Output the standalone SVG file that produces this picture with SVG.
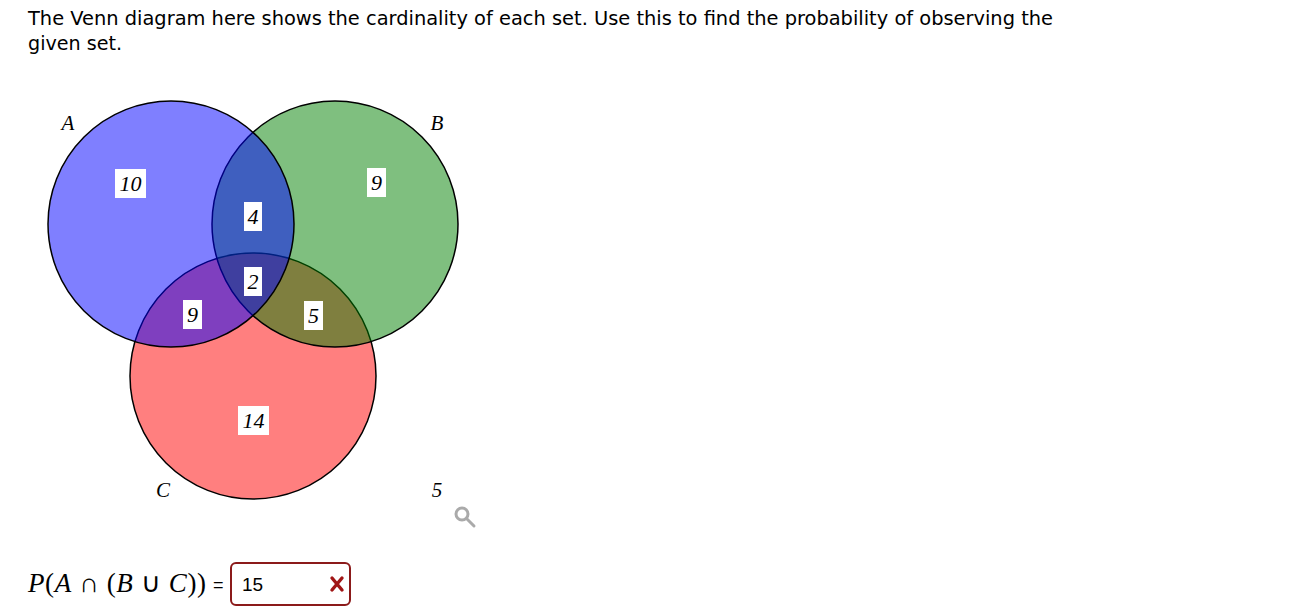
<svg xmlns="http://www.w3.org/2000/svg" width="1313" height="615" viewBox="0 0 1313 615">
<style>
.q{font-family:"DejaVu Sans",Verdana,sans-serif;font-size:20px;fill:#000}
.set{fill-opacity:0.5;stroke:#000;stroke-width:1.5}
.lb{fill:#fff}
.n{font-family:"Liberation Serif","Times New Roman",serif;font-style:italic;font-size:22px;fill:#000;text-anchor:middle}
.sl{font-family:"Liberation Serif","Times New Roman",serif;font-style:italic;font-size:21px;fill:#000;text-anchor:middle}
.m{font-family:"Liberation Serif","Times New Roman",serif;font-size:27px;fill:#000}
</style>
<rect width="1313" height="615" fill="#fff"/>
<text class="q" x="28" y="25" textLength="1025" lengthAdjust="spacingAndGlyphs">The Venn diagram here shows the cardinality of each set. Use this to find the probability of observing the</text>
<text class="q" x="28" y="50" textLength="94" lengthAdjust="spacingAndGlyphs">given set.</text>
<g id="venn">
<g id="setC"><circle class="set" cx="253" cy="376" r="123" fill="#ff0000"/></g>
<g id="setB"><circle class="set" cx="335" cy="224" r="123" fill="#008000"/></g>
<g id="setA"><circle class="set" cx="171" cy="224" r="123" fill="#0000ff"/></g>
</g>
<g id="connectors"></g>
<g id="labels">
<g id="lblA"><text class="sl" x="68" y="130">A</text></g>
<g id="lblB"><text class="sl" x="437" y="130">B</text></g>
<g id="lblC"><text class="sl" x="163" y="497">C</text></g>
<g id="lblU"><text class="sl" x="437" y="497">5</text></g>
<g id="r10"><rect class="lb" x="115" y="169" width="31" height="29"/><text class="n" x="130.5" y="191">10</text></g>
<g id="r4"><rect class="lb" x="244" y="202" width="18" height="29"/><text class="n" x="253" y="224">4</text></g>
<g id="r2"><rect class="lb" x="244" y="267" width="18" height="29"/><text class="n" x="253" y="289">2</text></g>
<g id="r9a"><rect class="lb" x="183" y="300" width="19" height="29"/><text class="n" x="192.5" y="322">9</text></g>
<g id="r9b"><rect class="lb" x="367" y="168" width="19" height="29"/><text class="n" x="376.5" y="190">9</text></g>
<g id="r5"><rect class="lb" x="304" y="301" width="19" height="29"/><text class="n" x="313.5" y="323">5</text></g>
<g id="r14"><rect class="lb" x="238" y="406" width="31" height="29"/><text class="n" x="253.5" y="428">14</text></g>
</g>
<g id="zoomicon" fill="none" stroke="#aaa" stroke-width="3">
<circle cx="462" cy="514" r="6"/>
<line x1="466.5" y1="518.5" x2="474" y2="526" stroke-linecap="round"/>
</g>
<g id="formula">
<text class="m" x="28" y="592" textLength="178" lengthAdjust="spacing"><tspan font-style="italic">P</tspan>(<tspan font-style="italic">A</tspan> ∩ (<tspan font-style="italic">B</tspan> ∪ <tspan font-style="italic">C</tspan>))</text>
<text x="213" y="591" font-family="Liberation Sans,Arial,sans-serif" font-size="18">=</text>
<rect x="231" y="563" width="119" height="42" rx="5" fill="#fff" stroke="#8b1a1a" stroke-width="2"/>
<text x="242" y="591" font-family="Liberation Sans,Arial,sans-serif" font-size="19">15</text>
<path d="M332 578 L342 590 M342 578 L332 590" stroke="#a01515" stroke-width="3.4" stroke-linecap="round"/>
</g>
</svg>
